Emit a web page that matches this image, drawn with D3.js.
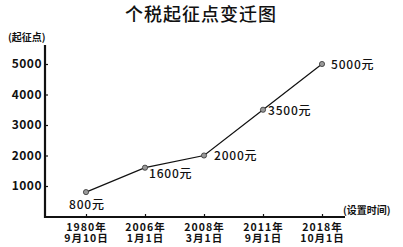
<!DOCTYPE html>
<html>
<head>
<meta charset="utf-8">
<script src="https://cdn.jsdelivr.net/npm/d3@7"></script>
<style>
  body { margin: 0; background: #fff; }
  text { font-family: "Noto Sans CJK SC", "Noto Sans", sans-serif; fill: #111; }
</style>
</head>
<body>
<div id="chart"></div>
<script>
const years = ["1980年", "2006年", "2008年", "2011年", "2018年"];
const days = ["9月10日", "1月1日", "3月1日", "9月1日", "10月1日"];
const values = [800, 1600, 2000, 3500, 5000];
const pointLabels = ["800元", "1600元", "2000元", "3500元", "5000元"];
const yTicks = [1000, 2000, 3000, 4000, 5000];

const W = 403, H = 247;
const x0 = 45, yBase = 217;

const svg = d3.select("#chart").append("svg")
  .attr("width", W).attr("height", H);

const x = d3.scalePoint()
  .domain(years)
  .range([86, 322]);

const y = d3.scaleLinear()
  .domain([0, 5000])
  .range([216.5, 64]);

// title
svg.append("text")
  .attr("x", 201).attr("y", 21)
  .attr("text-anchor", "middle")
  .style("font-size", "18px")
  .style("font-weight", 500)
  .style("letter-spacing", "1px")
  .text("个税起征点变迁图");

// axis titles
svg.append("text")
  .attr("x", 8).attr("y", 41)
  .style("font-size", "10px").style("font-weight", 700)
  .text("(起征点)");

svg.append("text")
  .attr("x", 343).attr("y", 214)
  .style("font-size", "10px").style("font-weight", 700)
  .text("(设置时间)");

// y axis
const yAxis = svg.append("g")
  .attr("transform", `translate(${x0},0)`)
  .call(d3.axisLeft(y).tickValues(yTicks).tickFormat(d3.format("d"))
    .tickSizeInner(-3).tickSizeOuter(0).tickPadding(3));
yAxis.select(".domain").remove();
yAxis.selectAll(".tick line").attr("stroke", "#111").attr("stroke-width", 1.2);
yAxis.selectAll(".tick text")
  .style("font-size", "12px").style("font-weight", 700)
  .style("letter-spacing", "0.5px")
  .style("font-family", "'Noto Sans CJK SC', sans-serif");

// x axis
const xAxis = svg.append("g")
  .attr("transform", `translate(0,${yBase})`)
  .call(d3.axisBottom(x).tickSizeInner(-3).tickSizeOuter(0));
xAxis.select(".domain").remove();
xAxis.selectAll(".tick line").attr("stroke", "#111").attr("stroke-width", 1.2);
xAxis.selectAll(".tick text").remove();
xAxis.selectAll(".tick").each(function(d, i) {
  const g = d3.select(this);
  g.append("text").attr("y", 14).attr("text-anchor", "middle")
    .style("font-size", "10.5px").style("font-weight", 700)
    .style("letter-spacing", "1px").text(d);
  g.append("text").attr("y", 25).attr("text-anchor", "middle")
    .style("font-size", "10.5px").style("font-weight", 700)
    .style("letter-spacing", "1px").text(days[i]);
});

// axis lines
svg.append("line")
  .attr("x1", x0).attr("x2", x0)
  .attr("y1", 45).attr("y2", yBase + 1)
  .attr("stroke", "#111").attr("stroke-width", 2.2);
svg.append("line")
  .attr("x1", x0).attr("x2", 345)
  .attr("y1", yBase).attr("y2", yBase)
  .attr("stroke", "#111").attr("stroke-width", 2);

const data = years.map((d, i) => ({ year: d, value: values[i], label: pointLabels[i] }));

const line = d3.line()
  .x(d => x(d.year))
  .y(d => y(d.value));

svg.append("path")
  .attr("d", line(data))
  .attr("fill", "none")
  .attr("stroke", "#111")
  .attr("stroke-width", 1.2);

svg.selectAll("circle")
  .data(data)
  .enter().append("circle")
  .attr("cx", d => x(d.year))
  .attr("cy", d => y(d.value))
  .attr("r", 2.6)
  .attr("fill", "#999")
  .attr("stroke", "#333")
  .attr("stroke-width", 0.8);

// point labels
const offs = [[-17, 17], [4, 10], [10, 4], [5, 5], [9, 5]];
svg.selectAll(".plabel")
  .data(data)
  .enter().append("text")
  .attr("class", "plabel")
  .attr("x", (d, i) => x(d.year) + offs[i][0])
  .attr("y", (d, i) => y(d.value) + offs[i][1])
  .style("font-size", "12px").style("font-weight", 500)
  .style("letter-spacing", "0.8px")
  .text(d => d.label);
</script>
</body>
</html>
